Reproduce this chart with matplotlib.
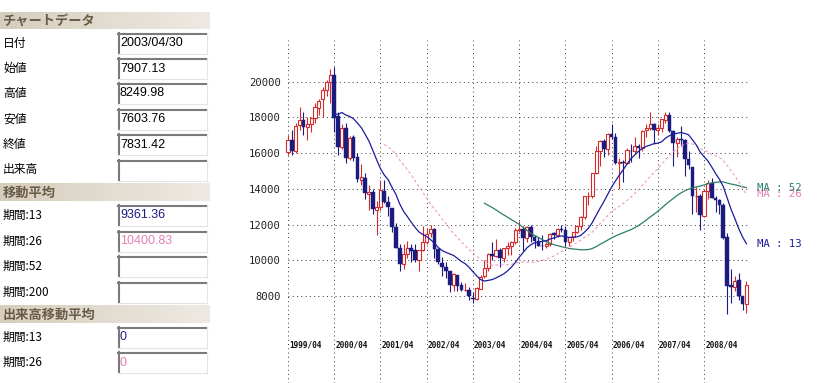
import numpy as np
import pandas as pd
import matplotlib
matplotlib.use("Agg")
import matplotlib.pyplot as plt
from matplotlib.patches import Rectangle
from matplotlib.lines import Line2D
from matplotlib.transforms import blended_transform_factory
from matplotlib.colors import LinearSegmentedColormap

# ---------------- data (monthly, 1999/04 .. 2009/03) ----------------
months = [p.strftime("%Y/%m") for p in pd.period_range("1999-04", "2009-03", freq="M")]

open_ = [16050, 16750, 16100, 17550, 17850, 17440, 17600, 17950, 18500,
         19000, 19540, 20000, 20337, 18050, 16330, 17411, 15727, 16900, 15800, 14500, 14600,
         13700, 13800, 12800, 13000, 13900, 13250, 12950, 11850, 10700, 9800, 10350, 10700,
         10550, 9990, 10600, 11000, 11500, 11750, 10620, 9870, 9600, 9400, 8600, 9200,
         8600, 8350, 8360, 7907.13, 7850, 8400, 9100, 9560, 10350, 10220, 10560, 10100,
         10680, 10780, 11040, 11700, 11760, 11240, 11860, 11320, 11080, 10820, 10770, 10900,
         11500, 11390, 11740, 11670, 11000, 11280, 11580, 11900, 12420, 13570, 13600, 14870,
         16100, 16650, 16200, 17060, 16900, 15460, 15500, 15460, 16140, 16120, 16400, 16270,
         17300, 17380, 17600, 17290, 17400, 17870, 18140, 17250, 16560, 16790, 16740, 15680,
         15200, 13600, 13600, 12500, 13850, 14330, 13480, 13370, 13070, 11300, 8600, 8500,
         8900, 8000, 7560]
high = [17000, 17300, 17700, 18600, 18300, 18000, 18000, 18800, 19000,
        19700, 20100, 20700, 20833, 18300, 17600, 17700, 16950, 17000, 16000, 15400, 14900,
        14200, 14000, 13300, 14500, 14500, 13600, 12950, 12100, 10900, 10900, 11100, 10900,
        10900, 10600, 11900, 11800, 12000, 11800, 10700, 10200, 9900, 9400, 9300, 9200,
        8800, 8700, 8500, 8249.98, 8500, 9200, 10000, 10400, 11000, 11200, 10700, 10700,
        11000, 11100, 11800, 12200, 11900, 11900, 12000, 11400, 11300, 11400, 11000, 11500,
        11600, 11800, 12000, 11900, 11300, 11600, 11950, 12500, 13600, 13800, 14900, 16400,
        16700, 16800, 17100, 17600, 17100, 15700, 15600, 16300, 16500, 16900, 16500, 17300,
        17600, 18300, 17700, 17600, 17900, 18300, 18300, 17300, 16900, 17500, 16800, 16100,
        15200, 14100, 13700, 13900, 14500, 14600, 13600, 13400, 13200, 11500, 9500, 9100,
        9300, 8000, 8850]
low = [15900, 15900, 16000, 17300, 17000, 16700, 17200, 17700, 18100,
       18000, 19200, 18800, 17200, 15900, 16200, 15450, 15600, 15550, 14400, 14200, 13400,
       12800, 12600, 11400, 12800, 13200, 12500, 11600, 10700, 9400, 9500, 10100, 9900,
       9900, 9400, 10500, 10900, 11300, 10100, 9800, 9100, 9000, 8200, 8300, 8300,
       8300, 8300, 7800, 7603.76, 7800, 8400, 9000, 9400, 10000, 10200, 9600, 9900,
       10300, 10300, 10900, 11600, 10500, 11000, 11000, 10700, 10800, 10600, 10700, 10800,
       11200, 11300, 11600, 10800, 10800, 11100, 11500, 11700, 12300, 13100, 13500, 14800,
       15300, 15800, 15900, 16800, 15400, 14000, 14400, 15400, 15500, 16000, 15700, 16100,
       16900, 17300, 16500, 17000, 17200, 17700, 17200, 15300, 15800, 16400, 14700, 15100,
       12600, 12700, 11700, 12400, 13400, 13500, 12700, 12600, 11200, 6994, 7600, 8300,
       7800, 7200, 7050]
close = [16701, 16112, 17530, 17862, 17437, 17605, 17942, 18558, 18934,
         19540, 19960, 20337, 17974, 16332, 17411, 15727, 16861, 15747, 14540, 14649, 13786,
         13844, 12884, 12999, 13934, 13262, 12969, 11861, 10713, 9775, 10366, 10697, 10543,
         9997, 10588, 11025, 11493, 11764, 10622, 9878, 9619, 9383, 8640, 9216, 8579,
         8340, 8363, 7973, 7831.42, 8425, 9083, 9563, 10344, 10219, 10560, 10101, 10677,
         10784, 11042, 11715, 11762, 11236, 11859, 11326, 11082, 10824, 10771, 10899, 11489,
         11388, 11741, 11669, 11009, 11277, 11584, 11900, 12414, 13574, 13607, 14872, 16111,
         16650, 16205, 17060, 16906, 15468, 15505, 15457, 16141, 16128, 16399, 16274, 17226,
         17383, 17604, 17288, 17400, 17876, 18138, 17249, 16569, 16786, 16738, 15681, 15308,
         13592, 13603, 12526, 13850, 14339, 13481, 13377, 13073, 11260, 8577, 8512, 8860,
         7994, 7568, 8630]

ma_periods = [13, 26, 52]
ma_labels = ["MA : 13", "MA : 26", "MA : 52"]
y_ticks = [8000, 10000, 12000, 14000, 16000, 18000, 20000]
x_tick_labels = ["1999/04", "2000/04", "2001/04", "2002/04", "2003/04",
                 "2004/04", "2005/04", "2006/04", "2007/04", "2008/04"]

# left panel form
sec1_title = "チャートデータ"
sec1_labels = ["日付", "始値", "高値", "安値", "終値", "出来高"]
sec1_values = ["2003/04/30", "7907.13", "8249.98", "7603.76", "7831.42", ""]
sec2_title = "移動平均"
sec2_labels = ["期間:13", "期間:26", "期間:52", "期間:200"]
sec2_values = ["9361.36", "10400.83", "", ""]
sec3_title = "出来高移動平均"
sec3_labels = ["期間:13", "期間:26"]
sec3_values = ["0", "0"]

# ---------------- styles ----------------
W, H = 826, 383
NAVY = "#1c1c80"
RED = "#d42a2a"
C13 = "#1c1ca0"
C26 = "#e67fb5"
C26_LINE = "#eb9cc4"
C52 = "#2a8068"
GRID = "#3a3a3a"
HEAD_TXT = "#6a5b46"
CJK = ["Noto Sans CJK JP", "DejaVu Sans"]

fig = plt.figure(figsize=(W / 100, H / 100), dpi=100)
fig.patch.set_facecolor("white")

# ---------------- left panel (pixel coordinates) ----------------
axp = fig.add_axes([0, 0, 1, 1])
axp.set_xlim(0, W)
axp.set_ylim(H, 0)
axp.axis("off")

grad = np.linspace(0, 1, 256).reshape(1, -1)
hcmap = LinearSegmentedColormap.from_list("hdr", ["#d5cdbd", "#e2dcd0", "#eeeae3"])


def header(text, y0, y1):
    axp.imshow(grad, cmap=hcmap, extent=(0, 210, y1, y0), aspect="auto", zorder=1)
    axp.text(3, (y0 + y1) / 2 + 0.5, text, family=CJK, fontsize=9.5, fontweight="bold",
             color=HEAD_TXT, va="center", ha="left", zorder=3)


def field(label, value, yc, vcolor="black"):
    axp.text(3, yc, label, family=CJK, fontsize=8.5, color="black", va="center", ha="left", zorder=3)
    y0, y1 = yc - 10, yc + 11
    x0, x1 = 118, 207
    axp.add_patch(Rectangle((x0, y0), x1 - x0, y1 - y0, facecolor="white", edgecolor="none", zorder=2))
    axp.add_line(Line2D([x0, x1], [y0 + 0.5, y0 + 0.5], color="#7a7a7a", lw=1.5, zorder=3))
    axp.add_line(Line2D([x0 + 0.5, x0 + 0.5], [y0, y1], color="#7a7a7a", lw=1.5, zorder=3))
    axp.add_line(Line2D([x0, x1], [y1, y1], color="#e4e4e4", lw=0.8, zorder=3))
    axp.add_line(Line2D([x1, x1], [y0, y1], color="#e4e4e4", lw=0.8, zorder=3))
    if value:
        axp.text(120, yc + 0.5, value, family=["Liberation Sans", "DejaVu Sans"], fontsize=9,
                 color=vcolor, va="center", ha="left", zorder=4)


header(sec1_title, 12, 29)
for lab, val, yc in zip(sec1_labels, sec1_values, [43, 68, 93, 119, 144, 170]):
    field(lab, val, yc)
header(sec2_title, 183, 201)
for lab, val, yc, col in zip(sec2_labels, sec2_values, [215, 241, 266, 292], [NAVY, C26, "black", "black"]):
    field(lab, val, yc, col)
header(sec3_title, 305, 323)
for lab, val, yc, col in zip(sec3_labels, sec3_values, [337, 362], [NAVY, C26]):
    field(lab, val, yc, col)

# ---------------- chart ----------------
o = np.array(open_, float)
h = np.array(high, float)
l = np.array(low, float)
c = np.array(close, float)
idx = np.arange(len(c))

px_per = 3.852          # pixels per month
x_start_px = 288        # pixel of first candle
xlo, xhi = -1.5, 124
top_px, bot_px = 40, H
ylo, yhi = 3133, 22322

left_px = x_start_px + xlo * px_per
right_px = x_start_px + xhi * px_per
ax = fig.add_axes([left_px / W, 1 - bot_px / H, (right_px - left_px) / W, (bot_px - top_px) / H])
ax.set_xlim(xlo, xhi)
ax.set_ylim(ylo, yhi)
ax.patch.set_visible(False)
for s in ax.spines.values():
    s.set_visible(False)
ax.set_xticks([])
ax.set_yticks(y_ticks)
ax.set_yticklabels([str(v) for v in y_ticks], family="DejaVu Sans Mono", fontsize=7.6, color="#222222")
ax.tick_params(axis="y", length=0, pad=1)

# grid (dotted)
dots = (0, (1, 3.4))
ax.hlines(y_ticks, 0, len(c), colors=GRID, lw=0.7, linestyles=[dots], zorder=1)
xt_pos = [months.index(m) for m in x_tick_labels]
ax.vlines(xt_pos, ylo, yhi, colors=GRID, lw=0.7, linestyles=[dots], zorder=1)

tr = blended_transform_factory(ax.transData, ax.transAxes)
for p, lab in zip(xt_pos, x_tick_labels):
    ax.text(p + 0.3, (bot_px - 345) / (bot_px - top_px), lab, transform=tr, family="DejaVu Sans Mono",
            fontweight="bold", fontsize=5.6, color="#111111", ha="left", va="center")

# candles
up = c >= o
ax.vlines(idx, l, h, colors=np.where(up, RED, NAVY), lw=0.8, zorder=2)
ax.bar(idx[up], (c - o)[up], bottom=o[up], width=0.8, facecolor="white", edgecolor=RED, lw=0.8, zorder=3)
ax.bar(idx[~up], (o - c)[~up], bottom=c[~up], width=0.95, color=NAVY, edgecolor=NAVY, lw=0.3, zorder=3)

# moving averages
s = pd.Series(c)
ma = {p: s.rolling(p).mean().to_numpy() for p in ma_periods}
ax.plot(idx, ma[52], color=C52, lw=0.9, zorder=4)
ax.plot(idx, ma[26], color=C26_LINE, lw=0.8, ls=(0, (2.5, 2.2)), zorder=4)
ax.plot(idx, ma[13], color=C13, lw=0.9, zorder=5)

for p, lab, col in zip(ma_periods, ma_labels, [C13, C26, C52]):
    ax.text(121.8, ma[p][-1], lab, family="DejaVu Sans Mono", fontsize=7.7, color=col,
            ha="left", va="center", zorder=6 if p == 52 else 5)

fig.savefig("out.png", dpi=100, facecolor="white")
